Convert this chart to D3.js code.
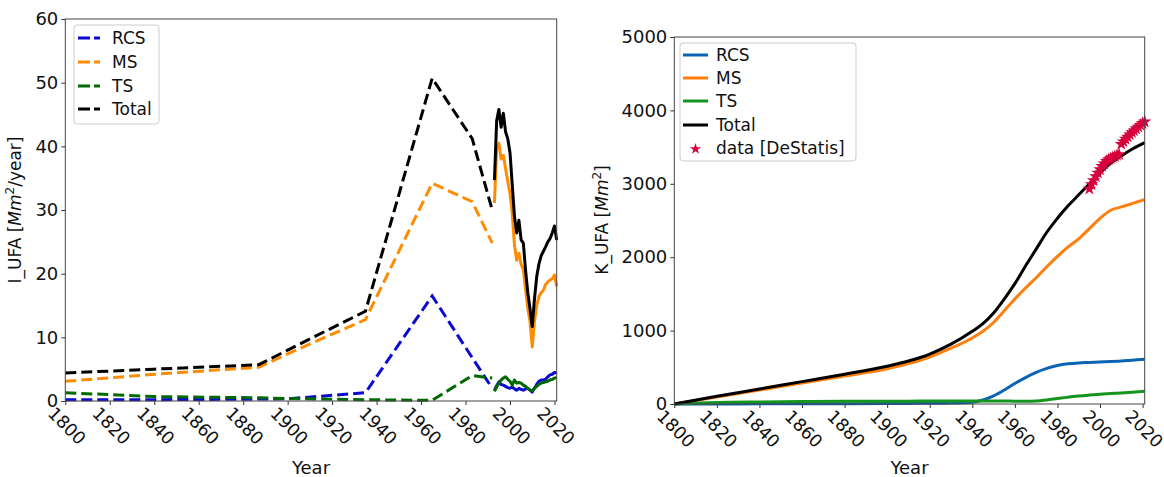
<!DOCTYPE html>
<html>
<head>
<meta charset="utf-8">
<script src="https://cdn.jsdelivr.net/npm/d3@7"></script>
<style>
  body { margin: 0; background: #fff; }
  svg { font-family: "DejaVu Sans", sans-serif; background: #fff; }
</style>
</head>
<body>
<svg width="1164" height="477"></svg>
<script>
// ---- left panel: inflow I_UFA [Mm2/year] ----
const histYears = [1800, 1840, 1887, 1900, 1935, 1965, 1983, 1992];
const histRCS = [0.2, 0.2, 0.3, 0.35, 1.3, 16.5, 6.8, 2.0];
const histMS = [3.1, 4.2, 5.3, 7.4, 12.8, 34.2, 31.3, 24.8];
const histTS = [1.3, 0.7, 0.5, 0.4, 0.2, 0.1, 4.0, 3.6];
const histTotal = [4.4, 5.0, 5.7, 8.0, 14.1, 50.7, 41.2, 30.0];

const recentYears = d3.range(1993, 2022);
const recentRCS = [1.7, 2.4, 3.0, 2.6, 2.5, 2.3, 2.1, 2.0, 2.2, 1.9, 1.7, 2.0, 1.8, 1.7, 1.9,
  2.0, 1.7, 1.4, 2.0, 2.6, 3.1, 3.3, 3.3, 3.4, 3.8, 4.1, 4.2, 4.5, 4.4];
const recentMS = [31.1, 39.5, 40.5, 38.0, 38.6, 36.5, 34.5, 32.6, 29.5, 24.5, 22.1, 23.2, 21.5, 20.6, 17.5,
  14.5, 12.5, 8.5, 12.5, 15.0, 16.4, 17.0, 17.4, 18.3, 18.7, 19.0, 19.2, 19.8, 18.0];
const recentTS = [1.5, 2.2, 2.8, 3.3, 3.6, 3.8, 3.4, 3.1, 2.5, 3.3, 2.8, 2.9, 2.8, 2.5, 2.3,
  2.0, 1.7, 1.6, 2.0, 2.3, 2.6, 2.8, 2.9, 3.0, 3.1, 3.3, 3.4, 3.6, 3.7];
const recentTotal = [34.7, 44.0, 45.8, 43.0, 45.2, 42.3, 41.2, 39.0, 34.0, 29.0, 26.4, 28.4, 25.3, 24.8, 20.5,
  17.0, 14.5, 11.7, 16.0, 19.5, 21.5, 22.8, 23.5, 24.2, 25.0, 25.5, 26.4, 27.5, 25.3];

// ---- right panel: stock K_UFA [Mm2] ----
const stockYears = [1800, 1820, 1840, 1860, 1880, 1900, 1910, 1920, 1930, 1940, 1945, 1950, 1955,
  1960, 1965, 1970, 1975, 1980, 1985, 1990, 1995, 2000, 2005, 2010, 2015, 2021];
const stockRCS = [0, 1, 2, 3, 4, 6, 8, 10, 14, 25, 55, 110, 190, 280, 360, 430, 485, 525, 548,
  560, 566, 572, 578, 586, 595, 609];
const stockMS = [0, 95, 190, 285, 380, 480, 550, 640, 760, 900, 990, 1110, 1270, 1430, 1580,
  1720, 1870, 2010, 2140, 2250, 2390, 2530, 2640, 2685, 2730, 2785];
const stockTS = [0, 20, 28, 33, 36, 38, 39, 40, 41, 42, 42, 41, 40, 39, 39, 42, 55, 75, 93, 110,
  122, 132, 142, 150, 160, 173];
const stockTotal = [0, 105, 205, 305, 405, 515, 585, 680, 815, 990, 1095, 1240, 1430, 1640, 1880,
  2110, 2340, 2530, 2700, 2850, 3000, 3150, 3280, 3380, 3470, 3560];

const destatisYears = d3.range(1995, 2022);
const destatisValues = [2930, 2990, 3045, 3100, 3150, 3195, 3240, 3275, 3310, 3330, 3345, 3360, 3375,
  3390, 3400, 3540, 3575, 3610, 3640, 3670, 3700, 3725, 3750, 3775, 3800, 3825, 3845];

const xTicks = d3.range(1800, 2021, 20);
const leftYTicks = d3.range(0, 61, 10);
const rightYTicks = d3.range(0, 5001, 1000);

const svg = d3.select("svg");
const fontSize = 17;
const tickFont = 18;

function zip(xs, ys) {
  return xs.map((v, i) => [v, ys[i]]);
}

function makePanel(box, yMax, yTicks) {
  const x = d3.scaleLinear().domain([1800, 2021]).range([box.x0, box.x1]);
  const y = d3.scaleLinear().domain([0, yMax]).range([box.y1, box.y0]);
  const g = svg.append("g");

  const gx = g.append("g")
    .attr("transform", `translate(0,${box.y1})`)
    .call(d3.axisBottom(x).tickValues(xTicks).tickFormat(d3.format("d")).tickSize(4));
  gx.select(".domain").remove();
  gx.selectAll("line").attr("stroke", "#333");
  gx.selectAll("text")
    .attr("y", 0).attr("dy", null)
    .attr("font-size", 17.5).attr("fill", "#111")
    .attr("font-family", "DejaVu Sans")
    .attr("text-anchor", "middle")
    .attr("dominant-baseline", "central")
    .attr("transform", "translate(1,25) rotate(45)");

  const gy = g.append("g")
    .attr("transform", `translate(${box.x0},0)`)
    .call(d3.axisLeft(y).tickValues(yTicks).tickFormat(d3.format("d")).tickSize(4).tickPadding(3));
  gy.select(".domain").remove();
  gy.selectAll("line").attr("stroke", "#333");
  gy.selectAll("text").attr("font-size", tickFont).attr("fill", "#111")
    .attr("font-family", "DejaVu Sans");

  const line = d3.line().x((d) => x(d[0])).y((d) => y(d[1]));
  return { g, x, y, line };
}

function spines(g, box) {
  g.append("rect")
    .attr("x", box.x0).attr("y", box.y0)
    .attr("width", box.x1 - box.x0).attr("height", box.y1 - box.y0)
    .attr("fill", "none").attr("stroke", "#444").attr("stroke-width", 1);
}

function yLabel(cx, cy, pre, post) {
  const t = svg.append("text")
    .attr("transform", `translate(${cx},${cy}) rotate(-90)`)
    .attr("text-anchor", "middle")
    .attr("font-size", fontSize).attr("fill", "#111");
  t.append("tspan").text(pre);
  t.append("tspan").attr("font-style", "italic").text("Mm");
  t.append("tspan").attr("font-size", 12).attr("dy", -7).text("2");
  t.append("tspan").attr("dy", 7).text(post);
}

function legend(x0, y0, w, h, items, rowY, handleX, textX) {
  const lg = svg.append("g");
  lg.append("rect")
    .attr("x", x0).attr("y", y0).attr("width", w).attr("height", h)
    .attr("rx", 3).attr("fill", "#fff").attr("fill-opacity", 0.8)
    .attr("stroke", "#ccc");
  items.forEach((it, i) => {
    const yy = rowY[i];
    if (it.star) {
      lg.append("path")
        .attr("d", d3.symbol(d3.symbolStar, 40)())
        .attr("transform", `translate(${(handleX[0] + handleX[1]) / 2},${yy + 1})`)
        .attr("fill", it.color);
    } else {
      lg.append("line")
        .attr("x1", handleX[0]).attr("x2", handleX[1])
        .attr("y1", yy).attr("y2", yy)
        .attr("stroke", it.color).attr("stroke-width", 3)
        .attr("stroke-dasharray", it.dash || null);
    }
    lg.append("text")
      .attr("x", textX).attr("y", yy)
      .attr("dominant-baseline", "central")
      .attr("font-size", fontSize).attr("fill", "#111")
      .text(it.name);
  });
}

// ---------- left panel ----------
const leftBox = { x0: 65.3, x1: 556.7, y0: 19, y1: 401 };
const L = makePanel(leftBox, 60, leftYTicks);
const leftSeries = [
  { name: "RCS", color: "#0a0ad2", hist: histRCS, recent: recentRCS },
  { name: "MS", color: "#ff8c00", hist: histMS, recent: recentMS },
  { name: "TS", color: "#006a00", hist: histTS, recent: recentTS },
  { name: "Total", color: "#000", hist: histTotal, recent: recentTotal },
];
leftSeries.forEach((s) => {
  L.g.append("path")
    .attr("d", L.line(zip(histYears, s.hist)))
    .attr("fill", "none").attr("stroke", s.color)
    .attr("stroke-width", 3).attr("stroke-dasharray", "11,5");
});
leftSeries.forEach((s) => {
  L.g.append("path")
    .attr("d", L.line(zip(recentYears, s.recent)))
    .attr("fill", "none").attr("stroke", s.color)
    .attr("stroke-width", 3).attr("stroke-linejoin", "round");
});
spines(L.g, leftBox);
yLabel(21, 210, "I_UFA [", "/year]");
svg.append("text").attr("x", (leftBox.x0 + leftBox.x1) / 2).attr("y", 474)
  .attr("text-anchor", "middle").attr("font-size", 18).attr("fill", "#111").text("Year");
legend(74, 25, 85, 99,
  leftSeries.map((s) => ({ name: s.name, color: s.color, dash: "12,4" })),
  [38, 62, 86, 109], [78, 100], 112);

// ---------- right panel ----------
const rightBox = { x0: 674.3, x1: 1144.7, y0: 37, y1: 404 };
const R = makePanel(rightBox, 5000, rightYTicks);
R.line.curve(d3.curveMonotoneX);
const rightSeries = [
  { name: "RCS", color: "#0a64b4", values: stockRCS },
  { name: "MS", color: "#ff7f0e", values: stockMS },
  { name: "TS", color: "#14961e", values: stockTS },
  { name: "Total", color: "#000", values: stockTotal },
];
rightSeries.forEach((s) => {
  R.g.append("path")
    .attr("d", R.line(zip(stockYears, s.values)))
    .attr("fill", "none").attr("stroke", s.color)
    .attr("stroke-width", 3);
});
R.g.append("g").selectAll("path")
  .data(zip(destatisYears, destatisValues))
  .join("path")
  .attr("d", d3.symbol(d3.symbolStar, 55)())
  .attr("transform", (d) => `translate(${R.x(d[0])},${R.y(d[1])})`)
  .attr("fill", "#d7003c");
spines(R.g, rightBox);
yLabel(608, 220, "K_UFA [", "]");
svg.append("text").attr("x", (rightBox.x0 + rightBox.x1) / 2).attr("y", 474)
  .attr("text-anchor", "middle").attr("font-size", 18).attr("fill", "#111").text("Year");
legend(680, 43, 176, 118,
  rightSeries.map((s) => ({ name: s.name, color: s.color }))
    .concat([{ name: "data [DeStatis]", color: "#d7003c", star: true }]),
  [55, 78, 101, 125, 148], [683, 708], 716);
</script>
</body>
</html>
